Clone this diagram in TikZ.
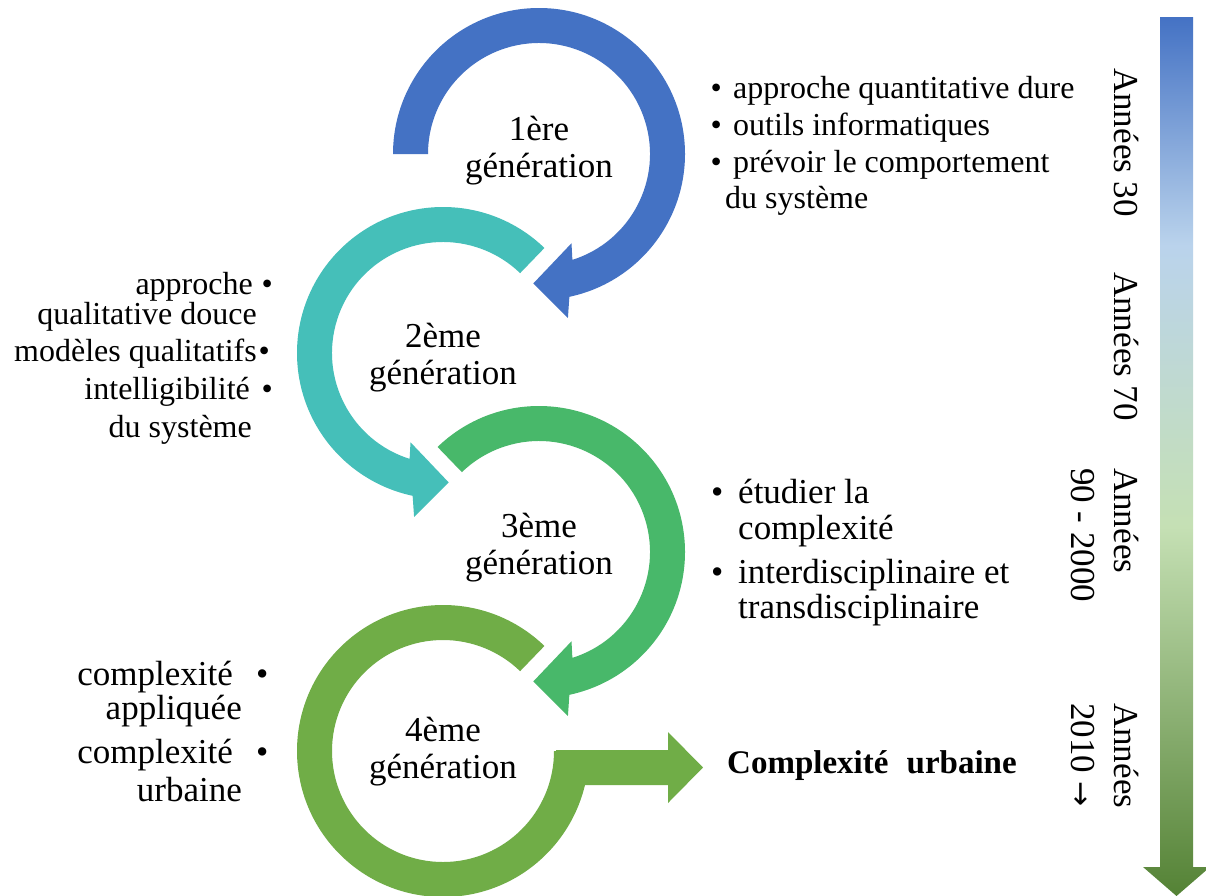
\documentclass[tikz,border=0pt]{standalone}
\usepackage{fontspec}
\setmainfont{Liberation Serif}
\newfontfamily\arrowfont{DejaVu Sans}
\usetikzlibrary{calc}
\definecolor{cblue}{HTML}{4472C4}
\definecolor{cteal}{HTML}{45BFB9}
\definecolor{cgreen}{HTML}{48B86A}
\definecolor{colive}{HTML}{70AD47}
\definecolor{tlblue}{HTML}{BAD3EC}
\definecolor{tlgreen}{HTML}{C5E0B4}
\definecolor{tdgreen}{HTML}{548235}
\pgfdeclareverticalshading{timeline}{100bp}{color(0bp)=(tdgreen); color(25bp)=(tdgreen); color(46bp)=(tlgreen); color(62bp)=(tlblue); color(75bp)=(cblue); color(100bp)=(cblue)}
\tikzset{
  tA/.style={inner sep=0pt, font=\fontsize{32}{38}\selectfont},
  tB/.style={inner sep=0pt, font=\fontsize{35}{40}\selectfont},
  vert/.style={tB, rotate=-90, anchor=base west},
  gen/.style={tB, anchor=base},
}
\begin{document}
\begin{tikzpicture}[x=1pt,y=-1pt]
\useasboundingbox (0,0) rectangle (1206,895);
\clip (0,0) rectangle (1206,895);
\fill[white] (0,0) rectangle (1206,895);

\coordinate (c1) at (539,154);
\coordinate (c2) at (443,353);
\coordinate (c3) at (539,552);
\coordinate (c4) at (443,751);

% circle 1 (clockwise)
\fill[cblue] ($(c1)+(180:146pt)$) arc[start angle=180,end angle=-78,radius=146pt]
  -- ($(c1)+(-80:166.5pt)$) -- ($(c1)+(-92.5:129.5pt)$) -- ($(c1)+(-70:95pt)$)
  -- ($(c1)+(-72.5:111pt)$) arc[start angle=-72.5,end angle=180,radius=111pt] -- cycle;
% circle 2 (counter-clockwise)
\fill[cteal] ($(c2)+(46:146pt)$) arc[start angle=46,end angle=258,radius=146pt]
  -- ($(c2)+(260:166.5pt)$) -- ($(c2)+(272.5:129.5pt)$) -- ($(c2)+(250:95pt)$)
  -- ($(c2)+(252.5:111pt)$) arc[start angle=252.5,end angle=46,radius=111pt] -- cycle;
% circle 3 (clockwise)
\fill[cgreen] ($(c3)+(134:146pt)$) arc[start angle=134,end angle=-78,radius=146pt]
  -- ($(c3)+(-80:166.5pt)$) -- ($(c3)+(-92.5:129.5pt)$) -- ($(c3)+(-70:95pt)$)
  -- ($(c3)+(-72.5:111pt)$) arc[start angle=-72.5,end angle=134,radius=111pt] -- cycle;
% circle 4 (counter-clockwise, then straight arrow)
\fill[colive] ($(c4)+(46:146pt)$) arc[start angle=46,end angle=360,radius=146pt]
  -- ($(c4)+(0:111pt)$) arc[start angle=360,end angle=46,radius=111pt] -- cycle;
\fill[colive] (556,750) -- (668,750) -- (668,732) -- (703,767.5) -- (668,803)
  -- (668,785) -- (556,785) -- cycle;

% timeline
\shade[shading=timeline] (1160,17) -- (1193,17) -- (1193,867) -- (1210,867)
  -- (1176.5,896) -- (1143,867) -- (1160,867) -- cycle;

% circle texts
\node[gen] (g1a) at (539,140) {1ère};
\node[gen] (g1b) at (539,177) {génération};
\node[gen] (g2a) at (443,347) {2ème};
\node[gen] (g2b) at (443,384) {génération};
\node[gen] (g3a) at (539,537) {3ème};
\node[gen] (g3b) at (539,574) {génération};
\node[gen] (g4a) at (443,741) {4ème};
\node[gen] (g4b) at (443,778) {génération};

% block 1
\node[tA,anchor=base west] (b1d1) at (710.5,98) {•};
\node[tA,anchor=base west] (b1t1) at (733,98) {approche quantitative dure};
\node[tA,anchor=base west] (b1d2) at (710.5,135) {•};
\node[tA,anchor=base west] (b1t2) at (733,135) {outils informatiques};
\node[tA,anchor=base west] (b1d3) at (710.5,172) {•};
\node[tA,anchor=base west] (b1t3) at (733,172) {prévoir le comportement};
\node[tA,anchor=base west] (b1t4) at (725,208) {du système};

% block 2
\node[tA,anchor=base east] (b2t1) at (253,294) {approche};
\node[tA,anchor=base west] (b2d1) at (261.5,294) {•};
\node[tA,anchor=base east] (b2t2) at (257,324) {qualitative douce};
\node[tA,anchor=base east] (b2t3) at (257,361) {modèles qualitatifs};
\node[tA,anchor=base west] (b2d3) at (258.5,361) {•};
\node[tA,anchor=base east] (b2t4) at (250,399) {intelligibilité};
\node[tA,anchor=base west] (b2d4) at (261.5,399) {•};
\node[tA,anchor=base east] (b2t5) at (252,437) {du système};

% block 3
\node[tB,anchor=base west] (b3d1) at (711,503) {•};
\node[tB,anchor=base west] (b3t1) at (738,503) {étudier la};
\node[tB,anchor=base west] (b3t2) at (738,539) {complexité};
\node[tB,anchor=base west] (b3d3) at (711,583) {•};
\node[tB,anchor=base west] (b3t3) at (738,583) {interdisciplinaire et};
\node[tB,anchor=base west] (b3t4) at (738,618) {transdisciplinaire};

% block 4
\node[tB,anchor=base east] (b4t1) at (233,685) {complexité};
\node[tB,anchor=base west] (b4d1) at (256,685) {•};
\node[tB,anchor=base east] (b4t2) at (242,719) {appliquée};
\node[tB,anchor=base east] (b4t3) at (233,763) {complexité};
\node[tB,anchor=base west] (b4d3) at (256,763) {•};
\node[tB,anchor=base east] (b4t4) at (242,801) {urbaine};

% result
\node[inner sep=0pt,anchor=base west,font=\fontsize{33}{40}\selectfont\bfseries] (res) at (727,773) {Complexité\hspace{0.55em}urbaine};

% timeline labels
\node[vert] (y1) at (1114,68) {Années 30};
\node[vert] (y2) at (1114,272) {Années 70};
\node[vert] (y3a) at (1114,468) {Années};
\node[vert] (y3b) at (1071,468) {90 - 2000};
\node[vert] (y4a) at (1114,703) {Années};
\node[vert] (y4b) at (1071,703) {2010 {\arrowfont\fontsize{30}{36}\selectfont →}};
\end{tikzpicture}
\end{document}
